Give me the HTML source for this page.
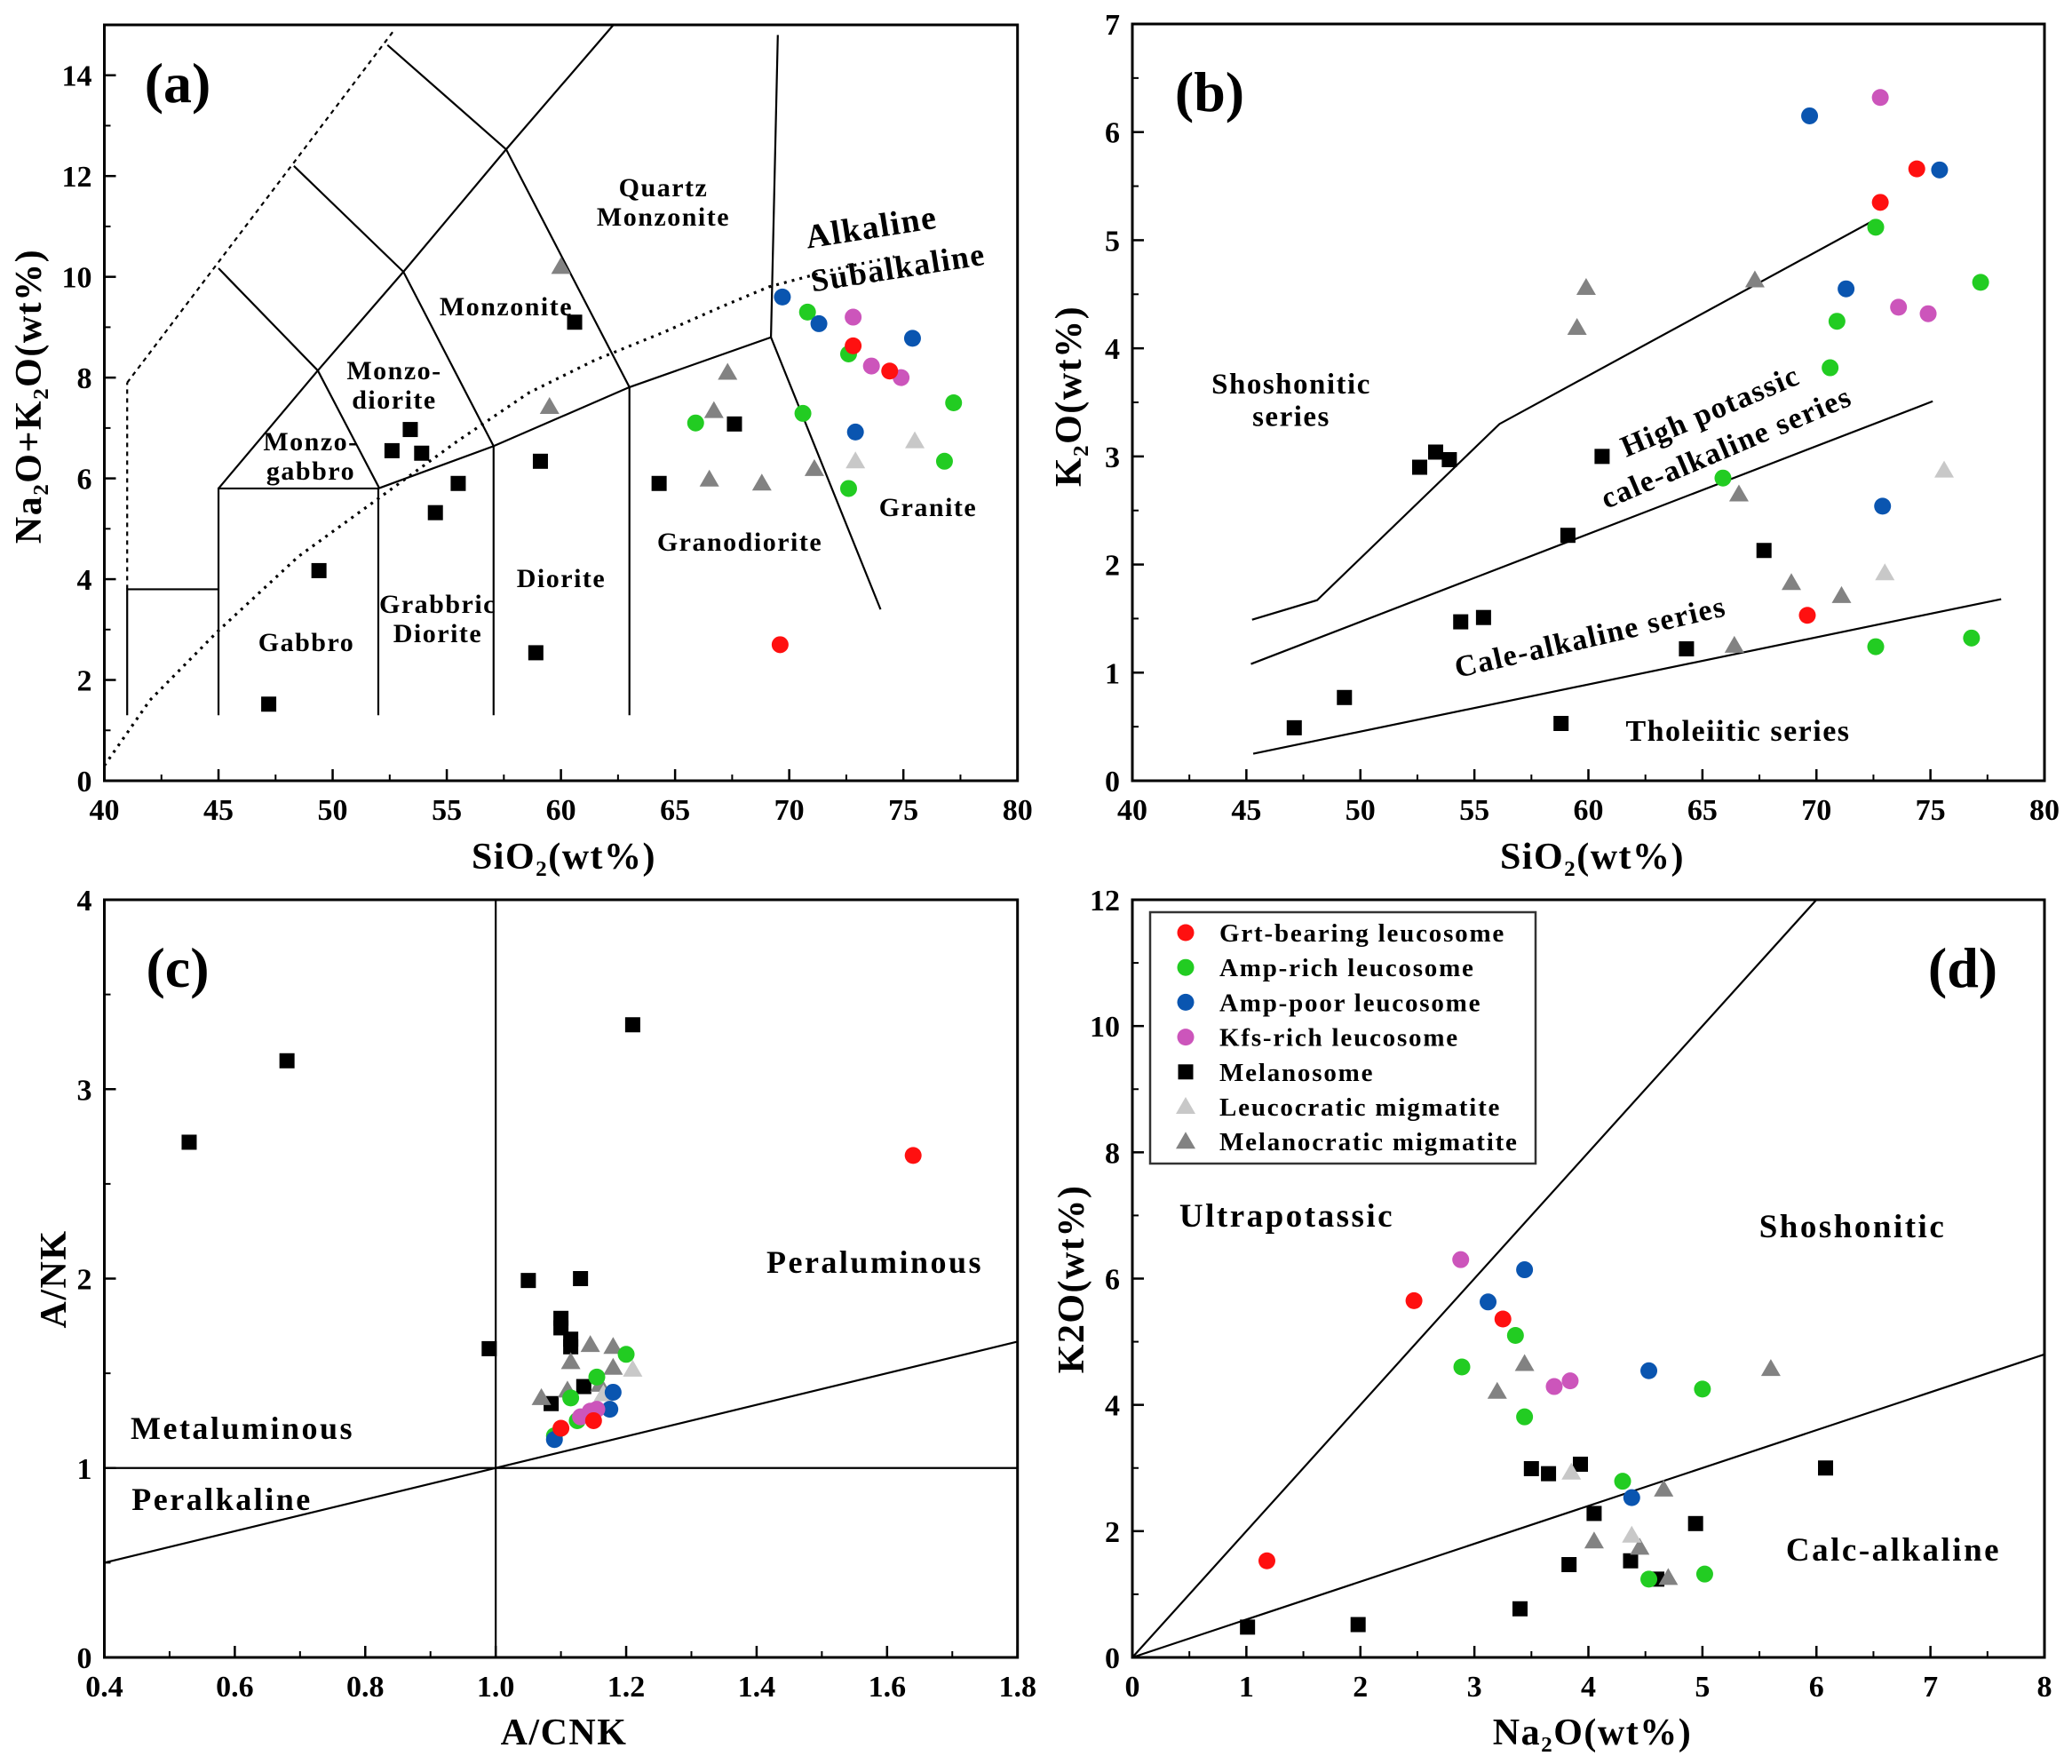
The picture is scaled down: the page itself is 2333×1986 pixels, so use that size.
<!DOCTYPE html>
<html><head><meta charset="utf-8"><style>
html,body{margin:0;padding:0;background:#fff;}
svg{display:block;font-family:"Liberation Serif",serif;font-weight:bold;}
</style></head><body>
<svg id="fig" width="2333" height="1986" viewBox="0 0 2333 1986" xmlns="http://www.w3.org/2000/svg"></svg>
<script>
// ===== Panel (a) TAS: SiO2 vs Na2O+K2O =====
const aMelX=[47.2,49.4,52.6,53.4,53.9,54.5,55.5,59.1,58.9,60.6,64.3,67.6];
const aMelY=[1.52,4.17,6.55,6.97,6.5,5.32,5.9,6.34,2.54,9.1,5.9,7.08];
const aDarkX=[60.0,59.5,67.3,66.7,66.5,68.8,71.1];
const aDarkY=[10.2,7.42,8.1,7.34,5.98,5.9,6.19];
const aLightX=[72.9,75.5];
const aLightY=[6.34,6.74];
const aRedX=[69.6,72.8,74.4];
const aRedY=[2.7,8.63,8.13];
const aGreenX=[65.9,70.8,72.6,70.6,72.6,76.8,77.2];
const aGreenY=[7.1,9.3,8.47,7.29,5.8,6.34,7.5];
const aBlueX=[69.7,71.3,75.4,72.9];
const aBlueY=[9.6,9.07,8.78,6.92];
const aPinkX=[72.8,73.6,74.9];
const aPinkY=[9.2,8.23,8.0];
const aXTicks=[40,45,50,55,60,65,70,75,80];
const aYTicks=[0,2,4,6,8,10,12,14];

// ===== Panel (b) SiO2 vs K2O =====
const bMelX=[47.1,49.3,52.6,53.3,53.9,60.6,59.1,54.4,55.4,58.8,64.3,67.7];
const bMelY=[0.49,0.77,2.9,3.04,2.97,3.0,2.27,1.47,1.51,0.53,1.22,2.13];
const bDarkX=[59.9,59.5,67.3,66.6,68.9,71.1,66.4];
const bDarkY=[4.56,4.19,4.63,2.65,1.83,1.71,1.25];
const bLightX=[75.6,73.0];
const bLightY=[2.87,1.92];
const bRedX=[69.6,72.8,74.4];
const bRedY=[1.53,5.35,5.66];
const bGreenX=[65.9,70.6,70.9,72.6,77.2,72.6,76.8];
const bGreenY=[2.8,3.82,4.25,5.12,4.61,1.24,1.32];
const bBlueX=[69.7,75.4,71.3,72.9];
const bBlueY=[6.15,5.65,4.55,2.54];
const bPinkX=[72.8,73.6,74.9];
const bPinkY=[6.32,4.38,4.32];
const bXTicks=[40,45,50,55,60,65,70,75,80];
const bYTicks=[0,1,2,3,4,5,6,7];

// ===== Panel (c) A/CNK vs A/NK =====
const cMelX=[0.53,0.68,1.21,0.99,1.05,1.13,1.10,1.10,1.115,1.115,1.135,1.085];
const cMelY=[2.72,3.15,3.34,1.63,1.99,2.0,1.79,1.74,1.68,1.64,1.43,1.34];
const cDarkX=[1.07,1.11,1.115,1.145,1.18,1.18,1.16];
const cDarkY=[1.37,1.41,1.56,1.65,1.64,1.53,1.44];
const cLightX=[1.21,1.165];
const cLightY=[1.52,1.39];
const cRedX=[1.64,1.10,1.15];
const cRedY=[2.65,1.21,1.25];
const cGreenX=[1.2,1.155,1.115,1.125,1.09];
const cGreenY=[1.6,1.48,1.37,1.25,1.17];
const cBlueX=[1.09,1.18,1.175];
const cBlueY=[1.15,1.40,1.31];
const cPinkX=[1.13,1.145,1.155];
const cPinkY=[1.27,1.30,1.31];
const cXTicks=[0.4,0.6,0.8,1.0,1.2,1.4,1.6,1.8];
const cYTicks=[0,1,2,3,4];

// ===== Panel (d) Na2O vs K2O =====
const dMelX=[1.01,1.98,3.4,3.5,3.65,3.93,4.05,3.83,4.37,4.94,6.08,4.6];
const dMelY=[0.48,0.52,0.77,2.99,2.91,3.06,2.28,1.47,1.53,2.12,3.0,1.24];
const dDarkX=[3.44,3.2,5.6,4.66,4.05,4.45,4.7];
const dDarkY=[4.65,4.21,4.57,2.66,1.84,1.74,1.26];
const dLightX=[3.85,4.38];
const dLightY=[2.93,1.93];
const dRedX=[2.47,3.25,1.18];
const dRedY=[5.65,5.36,1.53];
const dGreenX=[3.36,2.89,3.44,4.3,5.0,4.53,5.02];
const dGreenY=[5.1,4.6,3.81,2.79,4.25,1.24,1.32];
const dBlueX=[3.12,3.44,4.53,4.38];
const dBlueY=[5.63,6.14,4.54,2.53];
const dPinkX=[2.88,3.70,3.84];
const dPinkY=[6.3,4.29,4.38];
const dXTicks=[0,1,2,3,4,5,6,7,8];
const dYTicks=[0,2,4,6,8,10,12];

const NS="http://www.w3.org/2000/svg";
const svg=document.getElementById('fig');
const COL={red:'#ff1010',green:'#22cc22',blue:'#0a55b0',pink:'#cc55bb',black:'#000',light:'#c8c8c8',dark:'#828282'};

function mk(tag,attrs,parent){const e=document.createElementNS(NS,tag);for(const k in attrs)e.setAttribute(k,attrs[k]);(parent||svg).appendChild(e);return e;}

function makePanel(name,L,R,T,B,x0,x1,y0,y1){
  const g=mk('g',{});
  
  
  const sx=v=>L+(v-x0)/(x1-x0)*(R-L);
  const sy=v=>B-(v-y0)/(y1-y0)*(B-T);
  return {g,sx,sy,L,R,T,B};
}
function frame(p){
  const r=mk('rect',{x:p.L,y:p.T,width:p.R-p.L,height:p.B-p.T,fill:'none',stroke:'#000','stroke-width':3},p.g);
  
  
}
function ticks(p,xt,yt,xminor,yminor,xfmt,yfmt){
  const gx=mk('g',{},p.g);
  
  
  xt.forEach(v=>{
    const x=p.sx(v);
    mk('line',{x1:x,x2:x,y1:p.B,y2:p.B-13,stroke:'#000','stroke-width':2.5},gx);
    const t=mk('text',{x:x,y:p.B+44,'text-anchor':'middle','font-size':34},gx);
    t.textContent=xfmt(v);
    
    
  });
  for(let i=0;i<xt.length-1;i++){const v=(xt[i]+xt[i+1])/2;const x=p.sx(v);mk('line',{x1:x,x2:x,y1:p.B,y2:p.B-7,stroke:'#000','stroke-width':2},gx);}
  const gy=mk('g',{},p.g);
  
  
  yt.forEach(v=>{
    const y=p.sy(v);
    mk('line',{x1:p.L,x2:p.L+13,y1:y,y2:y,stroke:'#000','stroke-width':2.5},gy);
    const t=mk('text',{x:p.L-14,y:y+12,'text-anchor':'end','font-size':34},gy);
    t.textContent=yfmt(v);
    
    
  });
  for(let i=0;i<yt.length-1;i++){const v=(yt[i]+yt[i+1])/2;const y=p.sy(v);mk('line',{x1:p.L,x2:p.L+7,y1:y,y2:y,stroke:'#000','stroke-width':2},gy);}
}
function poly(p,xs,ys,name,dash,w){
  const pts=xs.map((x,i)=>p.sx(x)+','+p.sy(ys[i])).join(' ');
  const e=mk('polyline',{points:pts,fill:'none',stroke:'#000','stroke-width':w||2.2},p.g);
  if(dash)e.setAttribute('stroke-dasharray',dash);
  
  
}
function marker(g,type,x,y){
  let e;
  if(type==='square'){e=mk('rect',{x:x-8.5,y:y-8.5,width:17,height:17,fill:COL.black},g);}
  else if(type==='light'||type==='dark'){e=mk('polygon',{points:`${x},${y-11} ${x-11},${y+8} ${x+11},${y+8}`,fill:COL[type]},g);}
  else {e=mk('circle',{cx:x,cy:y,r:9.5,fill:COL[type]},g);}
  return e;
}
function series(p,xs,ys,type,name){
  const g=mk('g',{},p.g);
  
  
  xs.forEach((x,i)=>{
    const e=marker(g,type,p.sx(x),p.sy(ys[i]));
    
    
  });
}
function label(p,txt,x,y,size,name,rot,ls){
  const lines=txt.split('\n');
  const t=mk('text',{x:x,y:y,'font-size':size,'text-anchor':'middle','letter-spacing':(ls===undefined?1.5:ls)},p?p.g:svg);
  if(rot)t.setAttribute('transform',`rotate(${rot} ${x} ${y})`);
  lines.forEach((l,i)=>{const s=mk('tspan',{x:x,dy:i===0?0:size*1.1},t);s.textContent=l;});
  
  
  return t;
}
function allSeries(p,pre){
  series(p,window[pre+'MelX'],window[pre+'MelY'],'square','melanosome');
  series(p,window[pre+'DarkX'],window[pre+'DarkY'],'dark','melanocratic-migmatite');
  series(p,window[pre+'LightX'],window[pre+'LightY'],'light','leucocratic-migmatite');
  series(p,window[pre+'GreenX'],window[pre+'GreenY'],'green','amp-rich-leucosome');
  series(p,window[pre+'BlueX'],window[pre+'BlueY'],'blue','amp-poor-leucosome');
  series(p,window[pre+'PinkX'],window[pre+'PinkY'],'pink','kfs-rich-leucosome');
  series(p,window[pre+'RedX'],window[pre+'RedY'],'red','grt-bearing-leucosome');
}
const dataMap={aMelX,aMelY,aDarkX,aDarkY,aLightX,aLightY,aRedX,aRedY,aGreenX,aGreenY,aBlueX,aBlueY,aPinkX,aPinkY,
bMelX,bMelY,bDarkX,bDarkY,bLightX,bLightY,bRedX,bRedY,bGreenX,bGreenY,bBlueX,bBlueY,bPinkX,bPinkY,
cMelX,cMelY,cDarkX,cDarkY,cLightX,cLightY,cRedX,cRedY,cGreenX,cGreenY,cBlueX,cBlueY,cPinkX,cPinkY,
dMelX,dMelY,dDarkX,dDarkY,dLightX,dLightY,dRedX,dRedY,dGreenX,dGreenY,dBlueX,dBlueY,dPinkX,dPinkY};
Object.assign(window,dataMap);

const int=v=>String(v);
const f1=v=>v.toFixed(1);

// ---- Panel a ----
const pa=makePanel('panel-a-tas',117.5,1145.7,28,879,40,80,0,15);
poly(pa,[41,41,45],[1.3,3.8,3.8],'tas-boundary');
poly(pa,[41,41],[3.8,7.9],'tas-boundary-dashed','5,5');
poly(pa,[41,52.7],[7.9,14.9],'tas-boundary-dashed','5,5');
poly(pa,[45,45,52,52],[1.3,5.8,5.8,1.3],'tas-boundary');
poly(pa,[57.05,57.05],[1.3,6.64],'tas-boundary');
poly(pa,[63,63],[1.3,7.81],'tas-boundary');
poly(pa,[52,57.05,63,69.2],[5.8,6.64,7.81,8.8],'tas-boundary');
poly(pa,[69.5,69.2,74],[14.8,8.8,3.4],'tas-boundary');
poly(pa,[45,49.35,53.1,57.6,62.3],[5.8,8.14,10.1,12.53,15],'tas-boundary');
poly(pa,[49.35,52.05],[8.14,5.8],'tas-boundary');
poly(pa,[45,49.35],[10.17,8.14],'tas-boundary');
poly(pa,[48.3,53.1,57.05],[12.2,10.1,6.64],'tas-boundary');
poly(pa,[52.4,57.6,63],[14.6,12.53,7.81],'tas-boundary');
poly(pa,[40,42,45,48.5,52,55.5,58.6,61.5,64.5,67,69.1,72,74.6],[0.3,1.6,2.98,4.45,5.6,6.75,7.7,8.35,8.9,9.4,9.8,10.15,10.4],'alkaline-subalkaline-divide','3,6',3.2);
frame(pa);
ticks(pa,aXTicks,aYTicks,true,true,int,int);
allSeries(pa,'a');
label(pa,'(a)',200,115,64,'panel-a-letter',0,0);
label(pa,'Quartz\nMonzonite',747,221,30,'label-quartz-monzonite');
label(pa,'Alkaline',983,268,38,'label-alkaline',-9);
label(pa,'Subalkaline',1013,313,36,'label-subalkaline',-9);
label(pa,'Monzonite',570,355,30,'label-monzonite');
label(pa,'Monzo-\ndiorite',444,427,30,'label-monzodiorite');
label(pa,'Monzo-\ngabbro',350,507,30,'label-monzogabbro');
label(pa,'Gabbro',345,733,30,'label-gabbro');
label(pa,'Grabbric\nDiorite',493,690,30,'label-gabbroic-diorite');
label(pa,'Diorite',632,661,30,'label-diorite');
label(pa,'Granodiorite',833,620,30,'label-granodiorite');
label(pa,'Granite',1045,581,30,'label-granite');
label(null,'SiO\u2082(wt%)',635,978,42,'x-axis-title-a');
label(null,'Na\u2082O+K\u2082O(wt%)',46,446,42,'y-axis-title-a',-90);

// ---- Panel b ----
const pb=makePanel('panel-b-k2o-sio2',1275,2302,27,879,40,80,0,7);
poly(pb,[45.25,48.1,56.1,72.4],[1.49,1.67,3.3,5.17],'shoshonitic-boundary');
poly(pb,[45.2,75.1],[1.08,3.51],'high-k-boundary');
poly(pb,[45.3,78.1],[0.25,1.68],'tholeiitic-boundary');
frame(pb);
ticks(pb,bXTicks,bYTicks,true,true,int,int);
allSeries(pb,'b');
label(pb,'(b)',1362,125,64,'panel-b-letter',0,0);
label(pb,'Shoshonitic\nseries',1454,443,33,'label-shoshonitic-series');
label(pb,'High potassic',1930,473,34,'label-high-potassic',-23);
label(pb,'cale-alkaline series',1948,514,34,'label-cale-alkaline-upper',-23);
label(pb,'Cale-alkaline series',1793,728,34,'label-cale-alkaline-series',-13);
label(pb,'Tholeiitic series',1957,834,34,'label-tholeiitic-series');
label(null,'SiO\u2082(wt%)',1793,978,42,'x-axis-title-b');
label(null,'K\u2082O(wt%)',1217,446,42,'y-axis-title-b',-90);

// ---- Panel c ----
const pc=makePanel('panel-c-shand',117.5,1145.7,1013,1866,0.4,1.8,0,4);
poly(pc,[1,1],[0,4],'metaluminous-divide');
poly(pc,[0.4,1.8],[1,1],'peralkaline-divide');
poly(pc,[0.4,1.8],[0.5,1.667],'peraluminous-divide');
frame(pc);
ticks(pc,cXTicks,cYTicks,true,true,f1,int);
allSeries(pc,'c');
label(pc,'(c)',200,1111,64,'panel-c-letter',0,0);
label(pc,'Peraluminous',985,1433,36,'label-peraluminous',0,2.5);
label(pc,'Metaluminous',273,1620,36,'label-metaluminous',0,2.5);
label(pc,'Peralkaline',250,1700,36,'label-peralkaline',0,2.5);
label(null,'A/CNK',635,1964,42,'x-axis-title-c');
label(null,'A/NK',74,1440,42,'y-axis-title-c',-90);

// ---- Panel d ----
const pd=makePanel('panel-d-k2o-na2o',1275,2302,1013,1866,0,8,0,12);
poly(pd,[0,6],[0,12],'ultrapotassic-divide');
poly(pd,[0,8],[0,4.8],'calc-alkaline-divide');
frame(pd);
ticks(pd,dXTicks,dYTicks,true,true,int,int);
allSeries(pd,'d');
label(pd,'(d)',2210,1111,64,'panel-d-letter',0,0);
label(pd,'Ultrapotassic',1449,1381,37,'label-ultrapotassic',0,2.5);
label(pd,'Shoshonitic',2086,1393,37,'label-shoshonitic',0,2.5);
label(pd,'Calc-alkaline',2132,1757,37,'label-calc-alkaline',0,2.5);
label(null,'Na\u2082O(wt%)',1793,1964,42,'x-axis-title-d');
label(null,'K2O(wt%)',1220,1440,42,'y-axis-title-d',-90);

// ---- Legend ----
const lg=mk('g',{});


mk('rect',{x:1295,y:1027,width:434,height:283,fill:'#fff',stroke:'#333','stroke-width':2.5},lg);
const legTypes=['red','green','blue','pink','square','light','dark'];
const legNames=['Grt-bearing leucosome','Amp-rich leucosome','Amp-poor leucosome','Kfs-rich leucosome','Melanosome','Leucocratic migmatite','Melanocratic migmatite'];
legTypes.forEach((tp,i)=>{
  const y=1050+i*39.2;
  const e=mk('g',{},lg);
  
  
  marker(e,tp,1335,y);
  const t=mk('text',{x:1373,y:y+10,'font-size':29,'letter-spacing':1.8},e);
  t.textContent=legNames[i];
});
</script>
</body></html>
